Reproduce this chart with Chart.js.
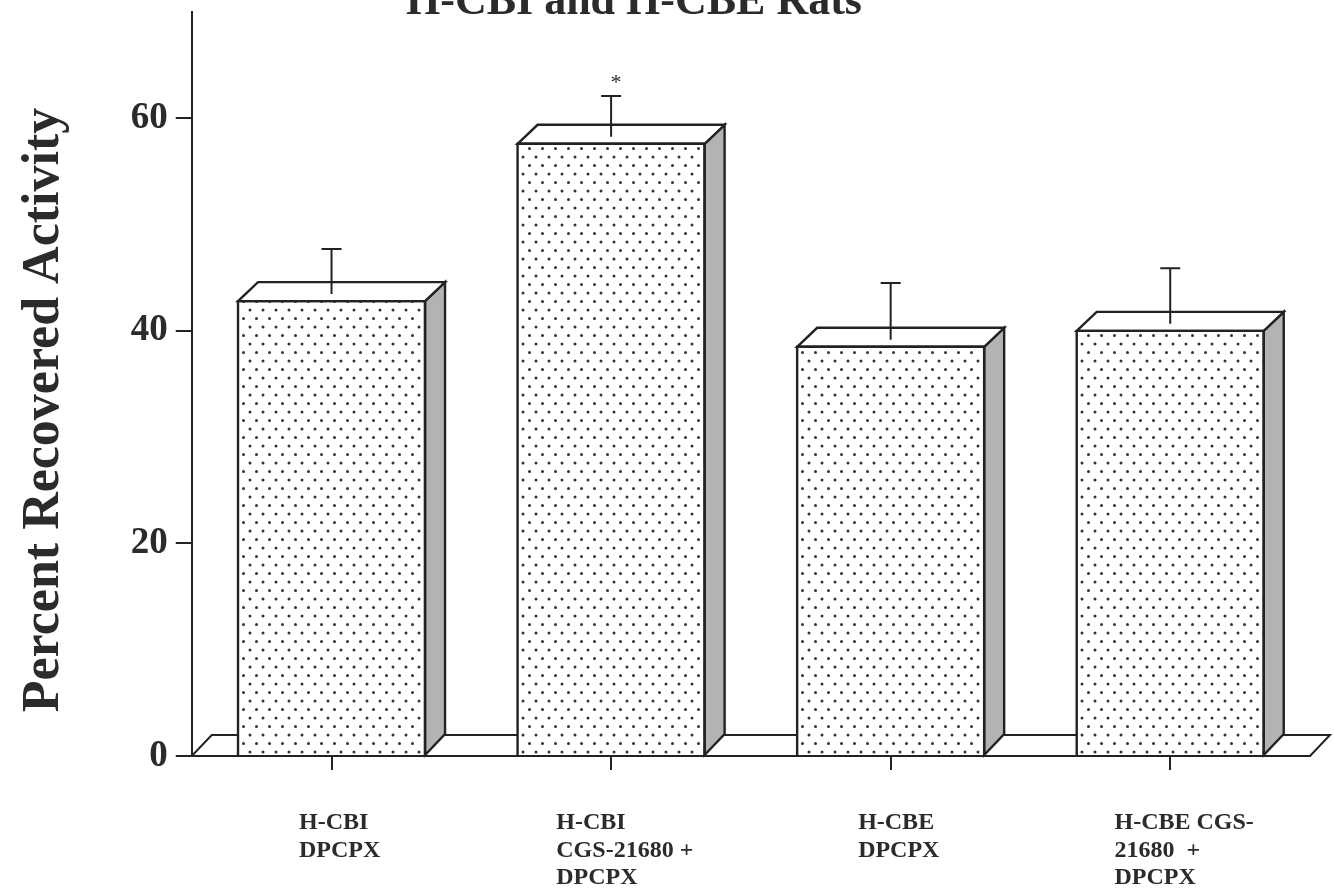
<!DOCTYPE html>
<html><head><meta charset="utf-8">
<script src="https://cdn.jsdelivr.net/npm/chart.js@4.4.1/dist/chart.umd.min.js"></script>
<style>html,body{margin:0;padding:0;background:#fff;} canvas{display:block;}</style>
</head><body>
<canvas id="c" width="1334" height="892"></canvas>
<script>
// ---- data ----
const categories = [
  ["H-CBI", "DPCPX"],
  ["H-CBI", "CGS-21680 +", "DPCPX"],
  ["H-CBE", "DPCPX"],
  ["H-CBE CGS-", "21680  +", "DPCPX"]
];
const meanValues = [42.8, 57.6, 38.5, 40.0];
const errorValues = [4.9, 4.5, 6.0, 5.9];
const significance = ["", "*", "", ""];
const yTickValues = [0, 20, 40, 60];
const chartTitle = "H-CBI and H-CBE Rats";
const yAxisTitle = "Percent Recovered Activity";

// ---- style ----
const INK = '#222222';
const TEXT = '#2b2b2b';
const SERIF = '"Liberation Serif", "Times New Roman", serif';
const DX = 20, DY = 19;
const LW = 2.4;

const canvas = document.getElementById('c');
const ctx0 = canvas.getContext('2d');
function makeDots() {
  const w = 13, h = 17;
  const t = document.createElement('canvas');
  t.width = w; t.height = h;
  const g = t.getContext('2d');
  g.fillStyle = '#fff'; g.fillRect(0, 0, w, h);
  g.fillStyle = '#333333';
  [[3, 4], [9.5, 12.5]].forEach(([x, y]) => { g.beginPath(); g.arc(x, y, 1.5, 0, Math.PI * 2); g.fill(); });
  return ctx0.createPattern(t, 'repeat');
}
const dots = makeDots();

const depthPlugin = {
  id: 'depth3d',
  beforeDatasetsDraw(chart) {
    const { ctx, chartArea: a } = chart;
    ctx.save();
    ctx.strokeStyle = INK; ctx.lineWidth = 2; ctx.lineJoin = 'miter';
    ctx.beginPath();
    ctx.moveTo(a.left, a.bottom);
    ctx.lineTo(a.left + DX, a.bottom - DY - 2);
    ctx.lineTo(a.right + DX, a.bottom - DY - 2);
    ctx.lineTo(a.right, a.bottom);
    ctx.closePath();
    ctx.fillStyle = '#fff'; ctx.fill(); ctx.stroke();
    ctx.restore();
  },
  afterDatasetsDraw(chart) {
    const { ctx } = chart;
    const yScale = chart.scales.y;
    const meta = chart.getDatasetMeta(0);
    ctx.save();
    ctx.strokeStyle = INK; ctx.lineWidth = LW; ctx.lineJoin = 'miter';
    meta.data.forEach((bar, i) => {
      const { x, y, base, width } = bar.getProps(['x', 'y', 'base', 'width'], true);
      const l = x - width / 2, r = x + width / 2;
      // side face
      ctx.beginPath();
      ctx.moveTo(r, y); ctx.lineTo(r + DX, y - DY); ctx.lineTo(r + DX, base - DY - 2); ctx.lineTo(r, base);
      ctx.closePath(); ctx.fillStyle = '#b3b3b3'; ctx.fill(); ctx.stroke();
      // top face
      ctx.beginPath();
      ctx.moveTo(l, y); ctx.lineTo(l + DX, y - DY); ctx.lineTo(r + DX, y - DY); ctx.lineTo(r, y);
      ctx.closePath(); ctx.fillStyle = '#fff'; ctx.fill(); ctx.stroke();
      // front outline
      ctx.beginPath();
      ctx.moveTo(l, base); ctx.lineTo(l, y); ctx.lineTo(r, y); ctx.lineTo(r, base);
      ctx.stroke();
      // error bar
      const capY = yScale.getPixelForValue(meanValues[i] + errorValues[i]);
      ctx.lineWidth = 2;
      ctx.beginPath();
      ctx.moveTo(x, y - DY * 0.37); ctx.lineTo(x, capY);
      ctx.moveTo(x - 10, capY); ctx.lineTo(x + 10, capY);
      ctx.stroke();
      ctx.lineWidth = LW;
      if (significance[i]) {
        ctx.fillStyle = TEXT;
        ctx.font = '22px ' + SERIF;
        ctx.textAlign = 'center'; ctx.textBaseline = 'middle';
        ctx.fillText(significance[i], x + 5, capY - 13);
      }
    });
    ctx.restore();
  },
  afterDraw(chart) {
    const { ctx, chartArea: a } = chart;
    const xScale = chart.scales.x;
    ctx.save();
    ctx.fillStyle = TEXT;
    // category labels
    ctx.font = 'bold 24px ' + SERIF;
    ctx.textAlign = 'left'; ctx.textBaseline = 'middle';
    chart.data.labels.forEach((lines, i) => {
      const cx = xScale.getPixelForTick(i);
      const maxW = Math.max(...lines.map(s => ctx.measureText(s).width));
      const left = cx - 0.4 * maxW;
      lines.forEach((s, j) => ctx.fillText(s, left, a.bottom + 67 + j * 27.5));
    });
    // title (cropped at top)
    ctx.font = 'bold 44px ' + SERIF;
    ctx.textAlign = 'center'; ctx.textBaseline = 'alphabetic';
    ctx.fillText(chartTitle, 634, 14);
    // y axis title
    ctx.translate(45, 410);
    ctx.rotate(-Math.PI / 2);
    ctx.font = 'bold 52px ' + SERIF;
    ctx.textAlign = 'center'; ctx.textBaseline = 'middle';
    ctx.fillText(yAxisTitle, 0, 0);
    ctx.restore();
  }
};

new Chart(canvas, {
  type: 'bar',
  data: {
    labels: categories,
    datasets: [{
      data: meanValues,
      backgroundColor: dots,
      borderColor: INK,
      borderWidth: 0,
      barPercentage: 0.669,
      categoryPercentage: 1.0
    }]
  },
  options: {
    responsive: false,
    animation: false,
    events: [],
    layout: { padding: { top: 12, right: 24, left: 0, bottom: 0 } },
    plugins: { legend: { display: false }, tooltip: { enabled: false }, title: { display: false } },
    scales: {
      x: {
        type: 'category',
        offset: true,
        grid: { display: true, offset: false, drawOnChartArea: false, drawTicks: true, tickLength: 14, color: INK, lineWidth: 2 },
        border: { display: true, color: INK, width: 2 },
        ticks: { display: false },
        afterFit(s) { s.height = 136; s.paddingLeft = 0; s.paddingRight = 0; }
      },
      y: {
        min: 0, max: 70,
        afterBuildTicks(s) { s.ticks = yTickValues.map(v => ({ value: v })); },
        grid: { display: true, drawOnChartArea: false, drawTicks: true, tickLength: 16, color: INK, lineWidth: 2 },
        border: { display: true, color: INK, width: 2 },
        ticks: { color: TEXT, padding: 8, font: { family: SERIF, size: 37, weight: 'bold' } },
        afterFit(s) { s.width = 191.75; s.paddingTop = 0; s.paddingBottom = 0; }
      }
    }
  },
  plugins: [depthPlugin]
});
</script>
</body></html>
